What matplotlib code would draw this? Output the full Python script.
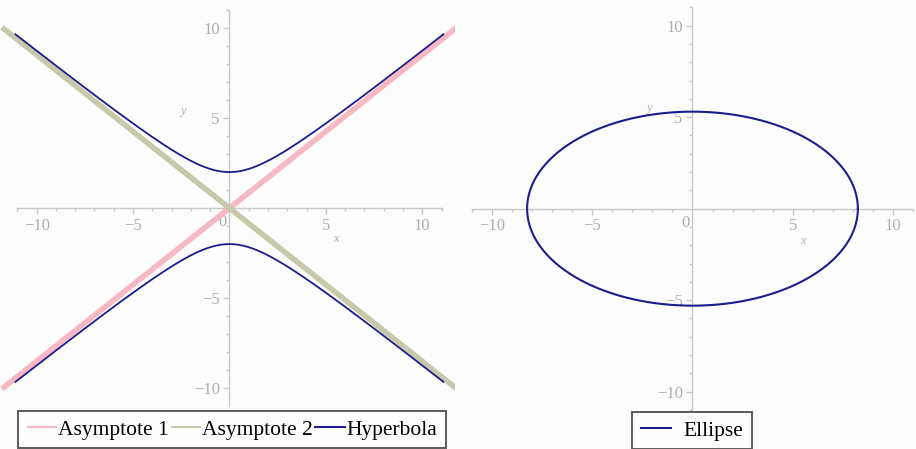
import numpy as np
import matplotlib
matplotlib.use("Agg")
import matplotlib.pyplot as plt
from matplotlib.ticker import FixedLocator

# ---- data ----
hyp_a = 2.0          # vertex distance of hyperbola (y^2/a^2 - x^2/b^2 = 1)
hyp_b = 2.35
hyp_x_range = (-11.1, 11.1)
asym_x_range = (-11.8, 11.8)
ell_a = 8.25         # ellipse semi-axis along x
ell_b = 5.3          # ellipse semi-axis along y
major_ticks = [-10, -5, 5, 10]
left_labels = ["Asymptote 1", "Asymptote 2", "Hyperbola"]
right_labels = ["Ellipse"]

col_pink = "#f8b8c3"
col_sage = "#c8c9ab"
col_navy = "#1c1c8c"
axis_col = "#c8c8c8"
label_col = "#adadad"

plt.rcParams['font.family'] = ['Liberation Serif', 'DejaVu Serif']

W, H = 916, 449
fig = plt.figure(figsize=(W / 100, H / 100), dpi=100)
fig.patch.set_facecolor("#fdfdfd")


def px_axes(x0, x1, y0, y1):
    return fig.add_axes([x0 / W, 1 - y1 / H, (x1 - x0) / W, (y1 - y0) / H])


def style(ax, xlim, ylim, ylab_pos, xlab_pos):
    ax.set_xlim(*xlim)
    ax.set_ylim(*ylim)
    ax.set_facecolor("none")
    for s in ("top", "right"):
        ax.spines[s].set_visible(False)
    for s in ("left", "bottom"):
        ax.spines[s].set_position(("data", 0))
        ax.spines[s].set_bounds(-11, 11)
        ax.spines[s].set_color(axis_col)
        ax.spines[s].set_linewidth(1.0)
        ax.spines[s].set_zorder(0.5)
    ax.xaxis.set_major_locator(FixedLocator(major_ticks))
    ax.yaxis.set_major_locator(FixedLocator(major_ticks))
    minors = [v for v in range(-11, 12) if v % 5 != 0]
    ax.xaxis.set_minor_locator(FixedLocator(minors))
    ax.yaxis.set_minor_locator(FixedLocator(minors))
    ax.tick_params(which="major", direction="out", length=4, width=1,
                   color=axis_col, labelcolor=label_col, labelsize=12, pad=3)
    ax.tick_params(which="minor", direction="out", length=2.5, width=1,
                   color=axis_col)
    ax.text(-0.15, -0.35, "0", ha="right", va="top", color=label_col,
            fontsize=12, zorder=0.6)
    ax.text(*ylab_pos, "y", style="italic", color=label_col, fontsize=9,
            ha="center", va="center")
    ax.text(*xlab_pos, "x", style="italic", color=label_col, fontsize=9,
            ha="center", va="center")


# ---- left panel: hyperbola ----
axL = px_axes(0, 455, 0, 405)
style(axL, (-11.9, 11.7), (-10.94, 11.56), (-2.4, 5.4), (5.5, -1.7))
xa = np.linspace(*asym_x_range, 50)
slope = hyp_a / hyp_b
l1, = axL.plot(xa, slope * xa, color=col_pink, lw=4, solid_capstyle="butt", zorder=2)
l2, = axL.plot(xa, -slope * xa, color=col_sage, lw=4, solid_capstyle="butt", zorder=2)
xh = np.linspace(*hyp_x_range, 400)
yh = hyp_a * np.sqrt(1 + xh ** 2 / hyp_b ** 2)
l3, = axL.plot(xh, yh, color=col_navy, lw=1.3, zorder=3)
axL.plot(xh, -yh, color=col_navy, lw=1.3, zorder=3)

legL = fig.legend([l1, l2, l3], left_labels, loc="center",
                  bbox_to_anchor=(232 / W, 1 - 429.5 / H), ncol=3,
                  fontsize=15.5, frameon=True, fancybox=False,
                  handlelength=1.4, handletextpad=0.05, columnspacing=0.1,
                  borderpad=0.4, borderaxespad=0)
legL.get_frame().set_edgecolor("#333333")
legL.get_frame().set_linewidth(1.4)
for h in legL.legend_handles:
    h.set_linewidth(1.5)

# ---- right panel: ellipse ----
axR = px_axes(470, 916, 0, 410)
style(axR, (-11.1, 11.15), (-11.0, 11.4), (-2.2, 5.5), (5.5, -1.75))
t = np.linspace(0, 2 * np.pi, 400)
l4, = axR.plot(ell_a * np.cos(t), ell_b * np.sin(t), color=col_navy, lw=1.5, zorder=3)

legR = fig.legend([l4], right_labels, loc="center",
                  bbox_to_anchor=(692 / W, 1 - 430.5 / H), ncol=1,
                  fontsize=15.5, frameon=True, fancybox=False,
                  handlelength=1.4, handletextpad=0.55,
                  borderpad=0.4, borderaxespad=0)
legR.get_frame().set_edgecolor("#333333")
legR.get_frame().set_linewidth(1.4)

fig.savefig("out.png", dpi=100, facecolor=fig.get_facecolor())
